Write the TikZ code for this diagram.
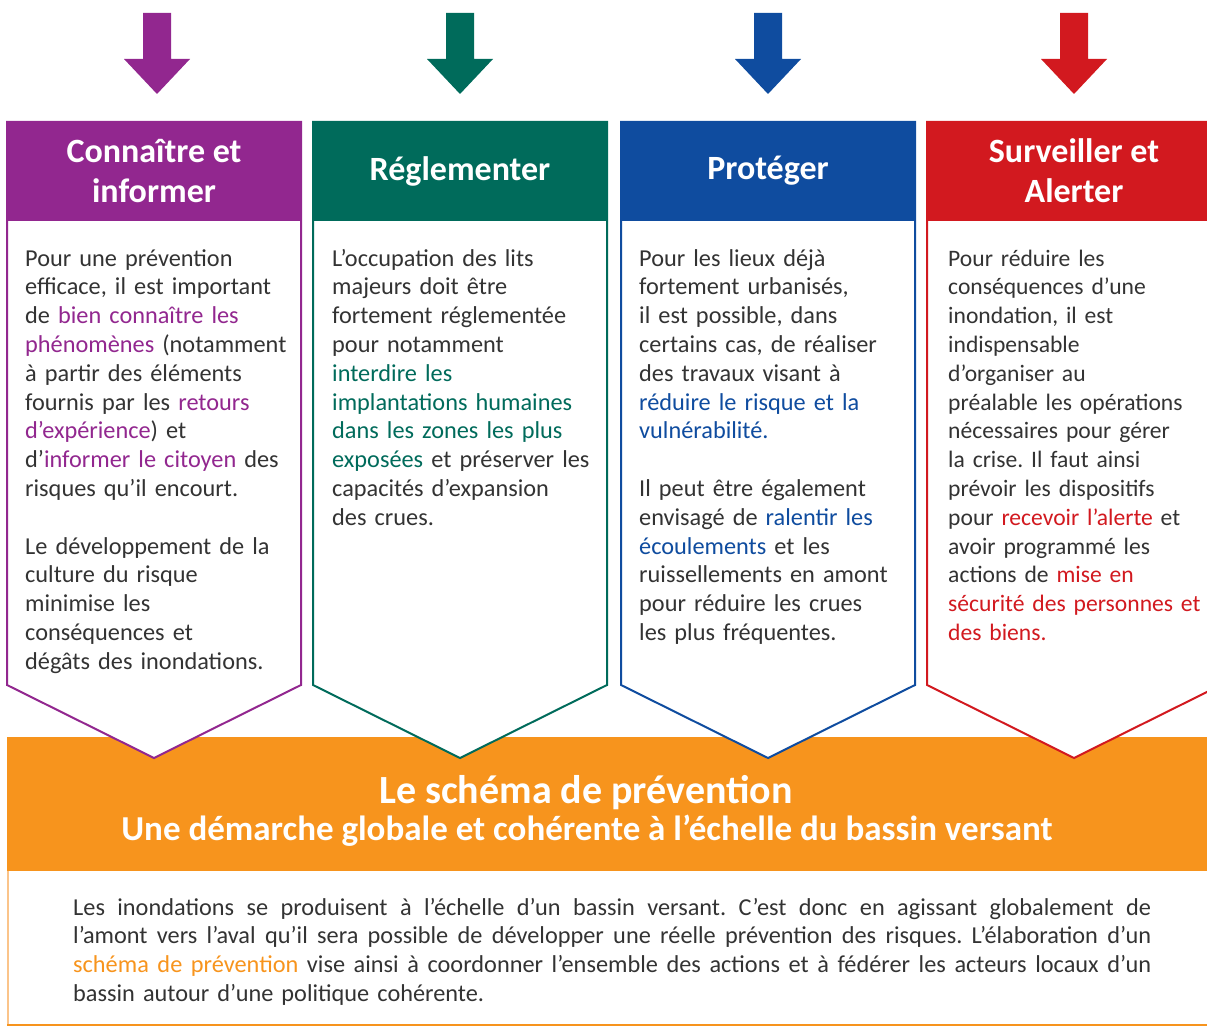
\documentclass[tikz,border=0pt]{standalone}
\usepackage{fontspec}
\setmainfont{Carlito}
\definecolor{purp}{HTML}{92278F}
\definecolor{vert}{HTML}{006B5B}
\definecolor{bleu}{HTML}{0F4C9F}
\definecolor{rouge}{HTML}{D2191F}
\definecolor{orng}{HTML}{F7941D}
\definecolor{orngpale}{HTML}{FBC48A}
\definecolor{texte}{HTML}{333333}
\newcommand{\ligne}[1]{{\spaceskip=0pt\xspaceskip=0pt\makebox[1078pt][s]{#1}}}
\tikzset{
  titre/.style={text=white, font=\bfseries\fontsize{34}{40}\selectfont, align=center, inner sep=0pt},
  corps/.style={text=texte, font=\frenchspacing\fontsize{24.3}{28.8}\selectfont, text width=290pt, align=left, inner sep=0pt, anchor=base west},
  bandeau/.style={text=white, font=\bfseries\fontsize{#1}{#1}\selectfont, inner sep=0pt, anchor=base},
}
\begin{document}
\begin{tikzpicture}[x=1pt,y=-1pt]
  \clip (0,0) rectangle (1207,1027);

  % bandeau orange et cadre du bas
  \fill[orng] (7,737) rectangle (1220,871);
  \draw[orngpale, line width=2pt] (8,871) -- (8,1024);
  \draw[orng, line width=2.5pt] (7,1025) -- (1220,1025);

  % les quatre colonnes et leurs fleches
  \foreach \x/\a/\c in {7/157/purp,313/460/vert,621/768/bleu,927/1074/rouge} {
    \draw[\c, line width=2pt, fill=white] (\x,122) -- (\x+294,122) -- (\x+294,685)
      -- (\x+147,758) -- (\x,685) -- cycle;
    \fill[\c] (\x,122) rectangle (\x+294,221);
    \fill[\c] (\a-14,13) -- (\a+14,13) -- (\a+14,59) -- (\a+33,59)
      -- (\a,94) -- (\a-33,59) -- (\a-14,59) -- cycle;
  }

  \node[titre] (titreA) at (154,171) {Connaître et\\informer};
  \node[titre] (titreB) at (460,171) {Réglementer};
  \node[titre] (titreC) at (768,171) {Protéger};
  \node[titre] (titreD) at (1074,171) {Surveiller et\\Alerter};

  \node[corps] (texteA) at (25,266) {Pour une prévention\\
    efficace, il est important\\
    de \textcolor{purp}{bien connaître les}\\
    \textcolor{purp}{phénomènes} (notamment\\
    à partir des éléments\\
    fournis par les \textcolor{purp}{retours}\\
    \textcolor{purp}{d’expérience}) et\\
    d’\textcolor{purp}{informer le citoyen} des\\
    risques qu’il encourt.\\[28.8pt]
    Le développement de la\\
    culture du risque\\
    minimise les\\
    conséquences et\\
    dégâts des inondations.};

  \node[corps] (texteB) at (332,266) {L’occupation des lits\\
    majeurs doit être\\
    fortement réglementée\\
    pour notamment\\
    \textcolor{vert}{interdire les}\\
    \textcolor{vert}{implantations humaines}\\
    \textcolor{vert}{dans les zones les plus}\\
    \textcolor{vert}{exposées} et préserver les\\
    capacités d’expansion\\
    des crues.};

  \node[corps] (texteC) at (639,266) {Pour les lieux déjà\\
    fortement urbanisés,\\
    il est possible, dans\\
    certains cas, de réaliser\\
    des travaux visant à\\
    \textcolor{bleu}{réduire le risque et la}\\
    \textcolor{bleu}{vulnérabilité.}\\[28.8pt]
    Il peut être également\\
    envisagé de \textcolor{bleu}{ralentir les}\\
    \textcolor{bleu}{écoulements} et les\\
    ruissellements en amont\\
    pour réduire les crues\\
    les plus fréquentes.};

  \node[corps, font=\frenchspacing\fontsize{23.6}{28.8}\selectfont] (texteD) at (948,266) {Pour réduire les\\
    conséquences d’une\\
    inondation, il est\\
    indispensable\\
    d’organiser au\\
    préalable les opérations\\
    nécessaires pour gérer\\
    la crise. Il faut ainsi\\
    prévoir les dispositifs\\
    pour \textcolor{rouge}{recevoir l’alerte} et\\
    avoir programmé les\\
    actions de \textcolor{rouge}{mise en}\\
    \textcolor{rouge}{sécurité des personnes et}\\
    \textcolor{rouge}{des biens.}};

  \node[bandeau=40] (schema) at (586,803) {Le schéma de prévention};
  \node[bandeau=35] (demarche) at (587,840) {Une démarche globale et cohérente à l’échelle du bassin versant};

  \node[corps, text width=1078pt] (texteE) at (73,915) {%
    \ligne{Les inondations se produisent à l’échelle d’un bassin versant. C’est donc en agissant globalement de}\\
    \ligne{l’amont vers l’aval qu’il sera possible de développer une réelle prévention des risques. L’élaboration d’un}\\
    \ligne{\textcolor{orng}{schéma de prévention} vise ainsi à coordonner l’ensemble des actions et à fédérer les acteurs locaux d’un}\\
    bassin autour d’une politique cohérente.};
\end{tikzpicture}
\end{document}
